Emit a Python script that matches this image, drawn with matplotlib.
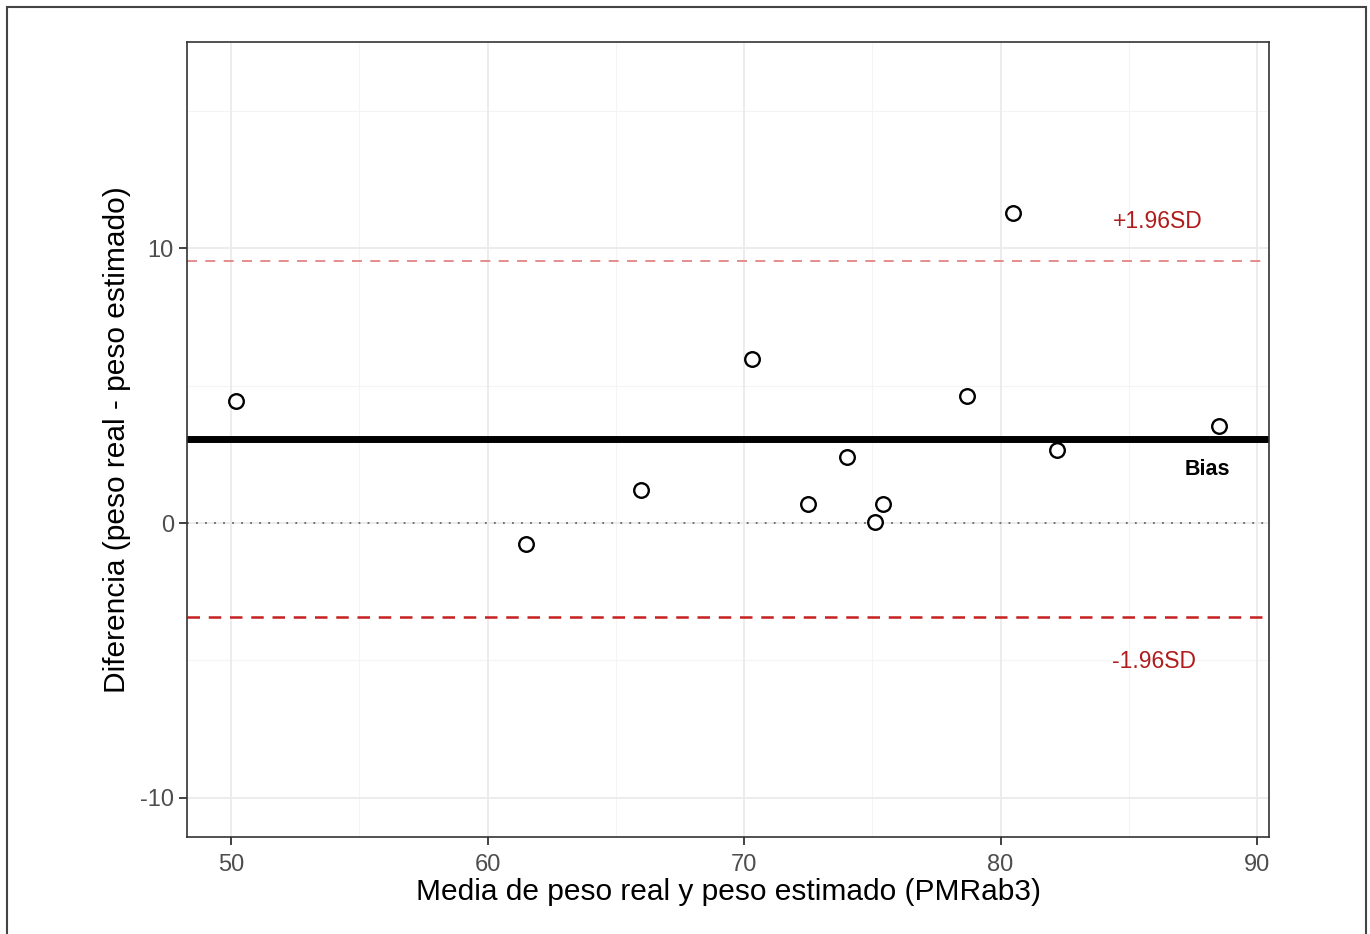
import numpy as np
import matplotlib.pyplot as plt
from matplotlib.patches import Rectangle

plt.rcParams['font.family'] = ['Liberation Sans', 'DejaVu Sans']
plt.rcParams['axes.unicode_minus'] = False

# Bland-Altman data: mean of real and estimated weight vs difference
media = [50.2, 61.5, 66.0, 70.3, 72.5, 74.0, 75.1, 75.4, 78.7, 80.5, 82.2, 88.5]
diferencia = [4.45, -0.77, 1.2, 5.97, 0.69, 2.4, 0.03, 0.69, 4.62, 11.28, 2.65, 3.54]

bias = 3.05
upper_loa = 9.53
lower_loa = -3.42

x_ticks = [50, 60, 70, 80, 90]
y_ticks = [-10, 0, 10]

fig = plt.figure(figsize=(13.7, 9.34), dpi=100)
ax = fig.add_axes([0.1365, 0.1039, 0.7898, 0.8511])

ax.set_xlim(48.28, 90.47)
ax.set_ylim(-11.42, 17.5)

# ggplot-ish grid
for v in [55, 65, 75, 85]:
    ax.axvline(v, color='#f4f4f4', lw=0.8, zorder=0)
for v in [-5, 5, 15]:
    ax.axhline(v, color='#f4f4f4', lw=0.8, zorder=0)
for v in x_ticks:
    ax.axvline(v, color='#ebebeb', lw=1.3, zorder=0)
for v in y_ticks:
    ax.axhline(v, color='#ebebeb', lw=1.3, zorder=0)

ax.axhline(0, color='#666666', lw=1.3, ls=(0, (1, 4)), zorder=1)
ax.axhline(bias, color='black', lw=5, zorder=2)
ax.axhline(upper_loa, color='#e07a7a', lw=1.2, ls=(0, (6, 5)), zorder=2)
ax.axhline(lower_loa, color='#c62020', lw=1.8, ls=(0, (5, 3.5)), zorder=2)

ax.plot(media, diferencia, 'o', ms=10.5, mfc='white', mec='black', mew=1.7, zorder=3)

ax.text(86.14, 10.98, '+1.96SD', color='#b01c1c', fontsize=16.5, ha='center', va='center')
ax.text(86.0, -5.05, '-1.96SD', color='#b01c1c', fontsize=16.5, ha='center', va='center')
ax.text(88.05, 1.96, 'Bias', color='black', fontsize=15.5, fontweight='bold', ha='center', va='center')

ax.set_xticks(x_ticks)
ax.set_yticks(y_ticks)
ax.tick_params(colors='#333333', labelcolor='#4d4d4d', labelsize=17, length=6, width=1.3)
ax.tick_params(axis='x', pad=6)
for s in ax.spines.values():
    s.set_color('#333333')
    s.set_linewidth(1.2)

ax.set_xlabel('Media de peso real y peso estimado (PMRab3)', fontsize=21.5, labelpad=2)
ax.set_ylabel('Diferencia (peso real - peso estimado)', fontsize=21.5, labelpad=6)

# outer frame around the figure
fig.patches.append(Rectangle((7 / 1370, -0.05), 1359 / 1370, 0.05 + 927 / 934,
                             transform=fig.transFigure, fill=False,
                             edgecolor='#444444', lw=1.5))

fig.savefig('out.png', dpi=100, facecolor='white')
